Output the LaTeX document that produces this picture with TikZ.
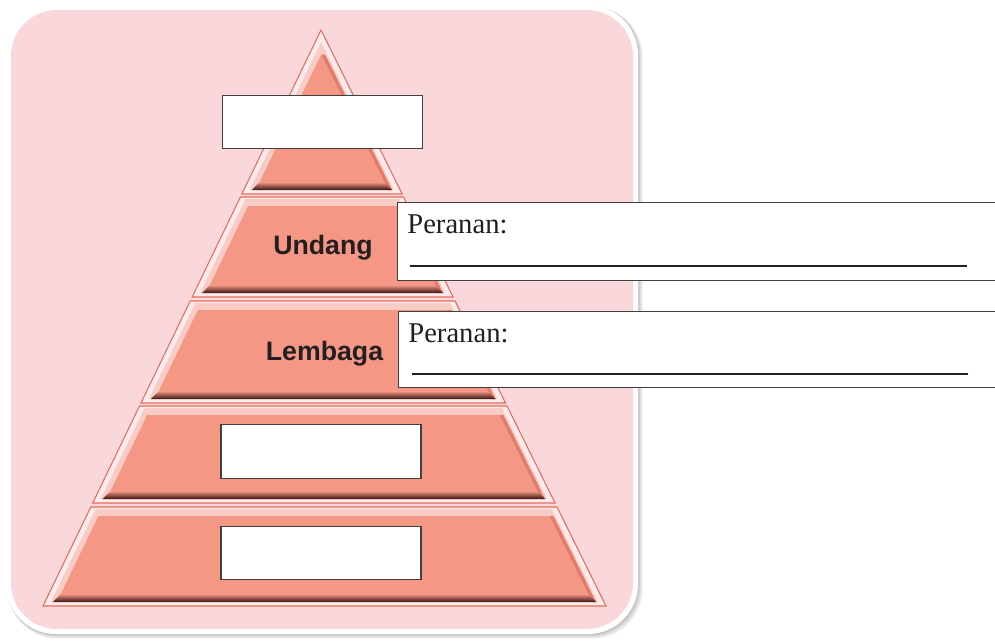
\documentclass[tikz,border=0pt]{standalone}
\usepackage{fontspec}
\setmainfont{Liberation Serif}
\setsansfont{Liberation Sans}
\usepackage{xcolor}
\definecolor{panelpink}{HTML}{F9D7DB}
\definecolor{tierline}{HTML}{E46E5B}
\definecolor{salmon}{HTML}{F49785}
\definecolor{bevel}{HTML}{F8CCC5}
\definecolor{tierdark}{HTML}{E27B69}
\definecolor{rust}{HTML}{3A1410}
\definecolor{ink}{HTML}{231F20}
\usetikzlibrary{calc, positioning}

\begin{document}
\begin{tikzpicture}[x=0.02cm, y=-0.02cm,
  declare function={xl(\y,\h)=321-0.48264*(\y-30)+\h; xr(\y,\h)=321+0.49479*(\y-30)-\h;},
  tier/.style={draw=tierline, line width=0.6pt, fill=panelpink!50!white},
  blank/.style={rectangle, draw=black!75, fill=white, line width=0.6pt, minimum width=4cm, minimum height=1.07cm, inner sep=0pt},
  rolebox/.style={rectangle, draw=black!75, fill=white, line width=0.6pt, minimum width=12.06cm, minimum height=1.56cm, anchor=north west, inner sep=0pt},
  lbl/.style={font=\sffamily\bfseries\fontsize{15.2}{18}\selectfont, text=ink},
  role/.style={font=\fontsize{16.3}{19}\selectfont, text=ink, inner sep=0pt, anchor=base west},
  rule/.style={draw=ink, line width=0.6pt}
]
  \useasboundingbox (0,0) rectangle (995,640);

  \foreach \s in {1,...,6}
    \fill[black, opacity=0.045, rounded corners=1cm] (6+0.3*\s,5+0.3*\s) rectangle (638+0.8*\s,634+0.8*\s);
  \fill[white, rounded corners=1cm] (6,5) rectangle (638,634);
  \fill[panelpink, rounded corners=0.92cm] (11,10) rectangle (633,629);

  \foreach \yt/\yb in {30/194, 197/297, 301/403, 406/503, 507/606} {
    \pgfmathsetmacro\ya{max(\yt+2,30+12/0.97743)}
    \pgfmathsetmacro\yc{max(\yt+9,30+24/0.97743)}
    \pgfmathsetmacro\yd{\yb-4}
    \pgfmathsetmacro\ye{\yb-12}
    \draw[tier] ({xl(\yt,0)},\yt) -- ({xr(\yt,0)},\yt) -- ({xr(\yb,0)},\yb) -- ({xl(\yb,0)},\yb) -- cycle;
    \fill[bevel] ({xl(\ya,6)},\ya) -- ({xr(\ya,6)},\ya) -- ({xr(\yd,6)},\yd) -- ({xl(\yd,6)},\yd) -- cycle;
    \fill[tierdark] ({xr(\yc,12)},\yc) -- ({xr(\yc,8)},\yc) -- ({xr(\yd,8)},\yd) -- ({xr(\yd,12)},\yd) -- cycle;
    \fill[salmon] ({xl(\yc,12)},\yc) -- ({xr(\yc,12)},\yc) -- ({xr(\ye,12)},\ye) -- ({xl(\ye,12)},\ye) -- cycle;
    \shade[top color=salmon, middle color=rust!75!salmon, bottom color=rust] ({xl(\ye,12)},\ye) -- ({xr(\ye,12)},\ye) -- ({xr(\yd,8)},\yd) -- ({xl(\yd,8)},\yd) -- cycle;
  }

  \node[blank] (topbox) at (322.5,122) {};
  \node[blank] (midbox) at (321,451.5) {};
  \node[blank] (basebox) at (321,553) {};

  \node[lbl, anchor=base] (undang) at (323,254) {Undang};
  \node[lbl, anchor=base] (lembaga) at (324.5,360) {Lembaga};

  \node[rolebox] (role1) at (397,202) {};
  \node[rolebox, minimum height=1.52cm] (role2) at (398,311) {};
  \node[role] (peran1) at ($(role1.north west)+(10,31)$) {Peranan:};
  \node[role] (peran2) at ($(role2.north west)+(10,31)$) {Peranan:};

  \coordinate (u1a) at ($(role1.north west)+(13,64)$);
  \coordinate (u1b) at ($(role1.north west)+(570,64)$);
  \coordinate (u2a) at ($(role2.north west)+(14,63)$);
  \coordinate (u2b) at ($(role2.north west)+(570,63)$);
  \draw[rule] (u1a) -- (u1b);
  \draw[rule] (u2a) -- (u2b);
\end{tikzpicture}
\end{document}
